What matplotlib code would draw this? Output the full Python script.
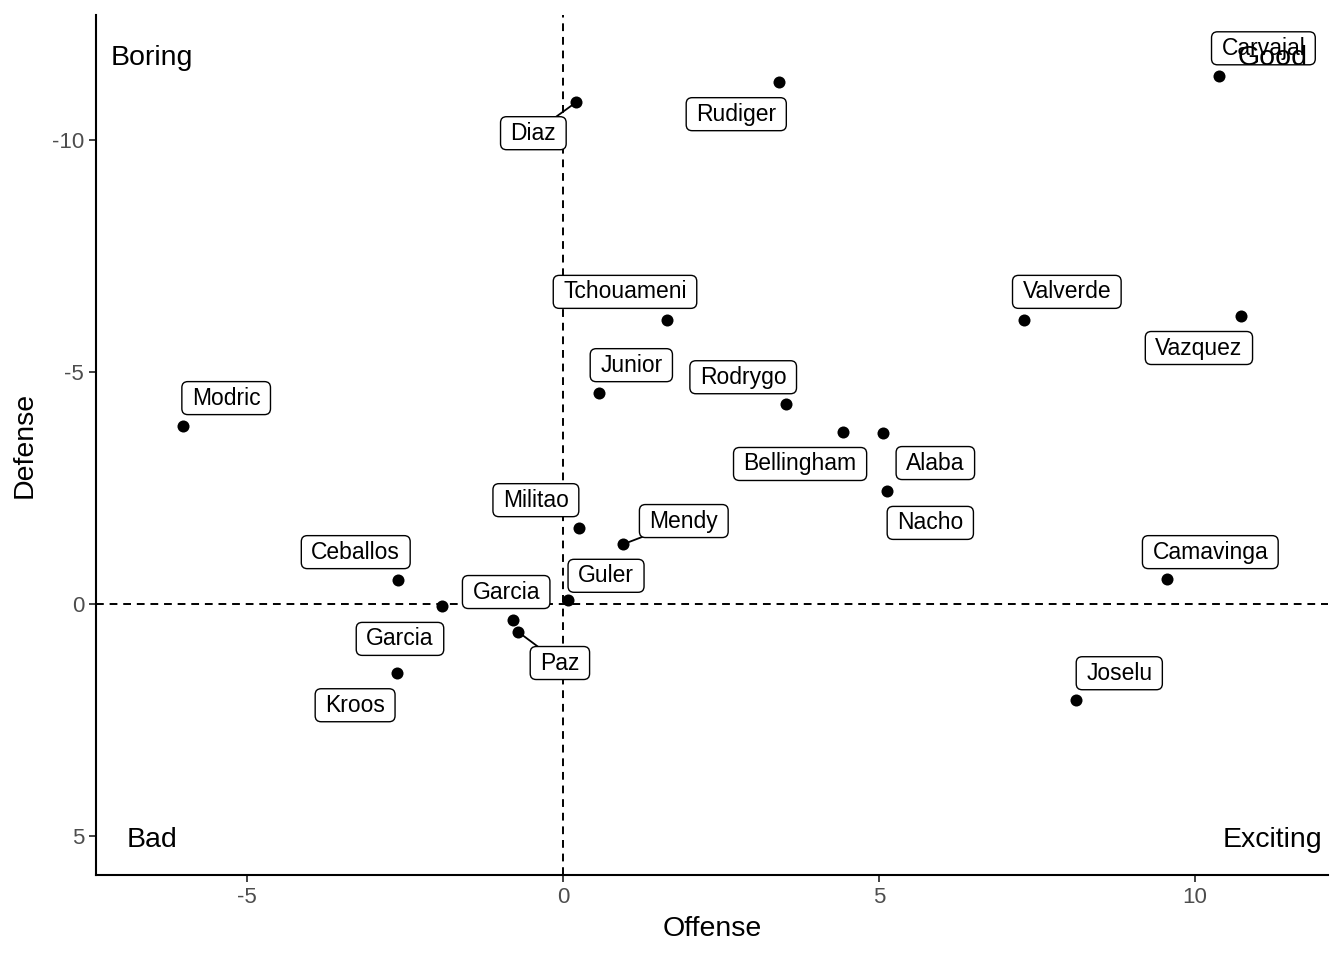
import matplotlib
matplotlib.use("Agg")
import matplotlib.pyplot as plt
from matplotlib.patches import FancyBboxPatch
from matplotlib.transforms import IdentityTransform

plt.rcParams["font.family"] = ["Liberation Sans", "DejaVu Sans"]
plt.rcParams["axes.unicode_minus"] = False

players = ["Carvajal", "Rudiger", "Diaz", "Tchouameni", "Valverde", "Vazquez",
           "Junior", "Modric", "Rodrygo", "Bellingham", "Alaba", "Nacho",
           "Militao", "Mendy", "Ceballos", "Camavinga", "Garcia", "Guler",
           "Garcia", "Paz", "Kroos", "Joselu"]
offense = [10.38, 3.42, 0.21, 1.65, 7.29, 10.73, 0.57, -6.01, 3.53, 4.43, 5.06, 5.13,
           0.25, 0.95, -2.61, 9.56, -1.91, 0.08, -0.79, -0.71, -2.63, 8.12]
defense = [-11.38, -11.25, -10.82, -6.12, -6.12, -6.21, -4.55, -3.84, -4.31, -3.71, -3.69, -2.44,
           -1.64, -1.29, -0.52, -0.54, 0.04, -0.09, 0.34, 0.60, 1.49, 2.07]

# repelled label positions (data units) and which labels show a leader segment
label_x = [11.08, 2.74, -0.47, 0.98, 7.97, 10.06, 1.08, -5.33, 2.85, 3.75, 5.89, 5.81,
           -0.43, 1.91, -3.28, 10.24, -2.58, 0.68, -0.90, -0.05, -3.29, 8.80]
label_y = [-11.98, -10.56, -10.15, -6.73, -6.73, -5.52, -5.15, -4.44, -4.89, -3.02, -3.04, -1.75,
           -2.24, -1.79, -1.12, -1.12, 0.75, -0.61, -0.26, 1.27, 2.18, 1.49]
segment = ["Diaz", "Mendy", "Paz"]

quadrants = ["Boring", "Good", "Bad", "Exciting"]
quad_x = [-6.5, 11.23, -6.5, 11.23]
quad_y = [-11.77, -11.77, 5.08, 5.08]

fig = plt.figure(figsize=(13.44, 9.6), dpi=100)
ax = fig.add_axes([0.0714, 0.0885, 0.9166, 0.8955])

ax.axvline(0, color="black", lw=1.4, ls=(0, (4, 3)), zorder=1)
ax.axhline(0, color="black", lw=1.4, ls=(0, (4, 3)), zorder=1)
ax.scatter(offense, defense, s=75, color="black", zorder=5, linewidths=0)

texts = []
for name, px, py, lx, ly in zip(players, offense, defense, label_x, label_y):
    if name in segment:
        ax.plot([px, lx], [py, ly], color="black", lw=1.3, zorder=2)
    t = ax.text(lx, ly, name, fontsize=16.5, ha="center", va="center", zorder=4)
    texts.append(t)

for q, qx, qy in zip(quadrants, quad_x, quad_y):
    ax.text(qx, qy, q, fontsize=20.5, ha="center", va="center", zorder=6)

ax.set_xlim(-7.39, 12.1)
ax.set_ylim(5.84, -12.69)
ax.set_xticks([-5, 0, 5, 10])
ax.set_yticks([-10, -5, 0, 5])
ax.set_xlabel("Offense", fontsize=20.5, labelpad=6)
ax.set_ylabel("Defense", fontsize=20.5, labelpad=10)
ax.tick_params(labelsize=16, colors="#333333", labelcolor="#4d4d4d", width=1.3, length=5)
for side in ["top", "right"]:
    ax.spines[side].set_visible(False)
for side in ["left", "bottom"]:
    ax.spines[side].set_linewidth(1.5)

fig.canvas.draw()
renderer = fig.canvas.get_renderer()
padx, pady = 10, 5
for t in texts:
    bb = t.get_window_extent(renderer)
    box = FancyBboxPatch((bb.x0 - padx, bb.y0 - pady), bb.width + 2 * padx, bb.height + 2 * pady,
                         boxstyle="round,pad=0,rounding_size=6", facecolor="white",
                         edgecolor="black", lw=1.0, transform=IdentityTransform(),
                         zorder=3, clip_on=False)
    ax.add_patch(box)

fig.savefig("out.png", dpi=100)
